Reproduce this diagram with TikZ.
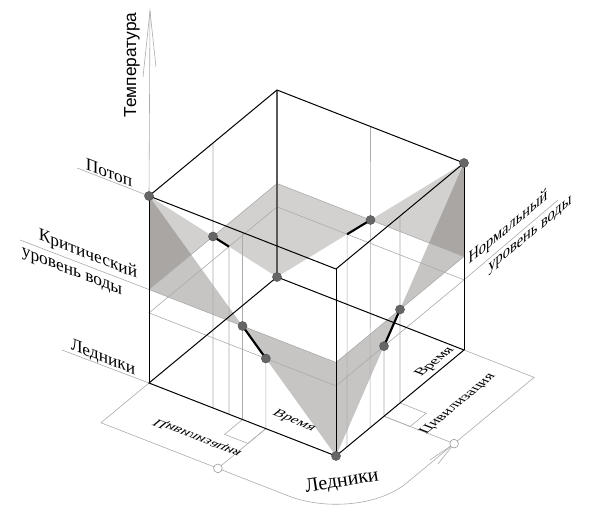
\documentclass[tikz,border=0pt]{standalone}
\usepackage{fontspec}
\setmainfont{Liberation Serif}
\newfontfamily\sansfont{Liberation Sans}
\begin{document}
\begin{tikzpicture}[x=0.75pt,y=-0.75pt,
  cubeedge/.style={line width=0.75pt,black},
  backedge/.style={line width=0.9pt,black!65},
  guide/.style={line width=0.45pt,black!33},
  shadeback/.style={fill={rgb,255:red,90;green,84;blue,80},fill opacity=0.27,draw=none},
  shadefront/.style={fill={rgb,255:red,90;green,84;blue,80},fill opacity=0.34,draw=none},
  dot/.style={circle,fill=black!60,draw=black!70,line width=0.3pt,inner sep=0pt,minimum size=6.8pt},
  ring/.style={circle,draw=black!40,line width=0.45pt,inner sep=0pt,minimum size=6.5pt},
  civ/.style={line width=1.6pt,black},
  lbl/.style={font=\fontsize{14}{16}\selectfont,inner sep=0pt,transform shape},
  flbl/.style={font=\fontsize{12}{14}\selectfont,inner sep=0pt,transform shape},
]
\useasboundingbox (0,0) rectangle (590,513);
\begin{scope}[shift={(277,277)},x={(-96pt,-79.5pt)},y={(140.25pt,-54.75pt)},z={(0pt,140.25pt)}]
 \coordinate (O) at (0,0,0);
 \coordinate (L) at (1,0,0);
 \coordinate (R) at (0,1,0);
 \coordinate (F) at (1,1,0);
 \coordinate (Ot) at (0,0,1);
 \coordinate (Lt) at (1,0,1);
 \coordinate (Rt) at (0,1,1);
 \coordinate (Ft) at (1,1,1);
 \coordinate (kL) at (1,0,0.5);
 \coordinate (kO) at (0,0,0.5);
 \coordinate (kR) at (0,1,0.5);
 \coordinate (kF) at (1,1,0.5);
 \coordinate (mL) at (1,0,0.375);
 \coordinate (mO) at (0,0,0.375);
 \coordinate (mR) at (0,1,0.375);
 \coordinate (mF) at (1,1,0.375);
 \coordinate (cBL) at (0.5,0,0.5);
 \coordinate (cBR) at (0,0.5,0.5);
 \coordinate (cL) at (1,0.5,0.5);
 \coordinate (cR) at (0.5,1,0.5);
 \coordinate (nBL) at (0.375,0,0.375);
 \coordinate (nBR) at (0,0.375,0.375);
 \coordinate (nL) at (1,0.625,0.375);
 \coordinate (nR) at (0.625,1,0.375);
 % vertical guide ends
 \coordinate (v1t) at (0.5,0,1);   \coordinate (v1b) at (1,0.342,0);
 \coordinate (v2b) at (1,0.428,0);
 \coordinate (v3t) at (0,0.5,1);   \coordinate (v3b) at (0.734,1,0);
 \coordinate (v4b) at (0.914,1,0);
 \coordinate (v5t) at (1,0.5,1);   \coordinate (v5b) at (1,0.5,0);
 \coordinate (eL) at (1,0.625,0);
 \coordinate (v7t) at (0.5,1,1);   \coordinate (v7b) at (0.5,1,0);
 \coordinate (eR) at (0.625,1,0);
 % brackets on the floor
 \coordinate (bL1) at (1.14,0.5,0);  \coordinate (bL2) at (1.14,0.625,0);
 \coordinate (bR1) at (0.5,1.14,0);  \coordinate (bR2) at (0.625,1.14,0);
 % floor band
 \coordinate (fL) at (1.375,0,0);
 \coordinate (fLc) at (1.375,0.625,0);
 \coordinate (fLe) at (1.375,1,0);
 \coordinate (fRe) at (1,1.375,0);
 \coordinate (fRc) at (0.625,1.375,0);
 \coordinate (fR) at (0,1.375,0);
 % shaded triangles
 \fill[shadeback] (Lt) -- (kL) -- (cBL) -- cycle;
 \fill[shadeback] (cBL) -- (kO) -- (O) -- cycle;
 \fill[shadeback] (Rt) -- (kR) -- (cBR) -- cycle;
 \fill[shadeback] (cBR) -- (kO) -- (O) -- cycle;
 \fill[shadefront] (Lt) -- (kL) -- (cL) -- cycle;
 \fill[shadefront] (cL) -- (kF) -- (F) -- cycle;
 \fill[shadefront] (Rt) -- (kR) -- (cR) -- cycle;
 \fill[shadefront] (cR) -- (kF) -- (F) -- cycle;
 % guides
 \draw[guide] (kL) -- (kO) -- (kR) -- (kF) -- cycle;
 \draw[guide] (mL) -- (mO) -- (mR) -- (mF) -- cycle;
 \draw[guide] (v1t) -- (v1b) (nBL) -- (v2b) (v3t) -- (v3b) (nBR) -- (v4b)
              (v5t) -- (v5b) (nL) -- (eL) (v7t) -- (v7b) (nR) -- (eR);
 \draw[guide] (v5b) -- (bL1) -- (bL2) -- (eL);
 \draw[guide] (v7b) -- (bR1) -- (bR2) -- (eR);
 \draw[guide] (L) -- (fL) -- (fLc) -- (fLe)
   plot[domain=0:90,samples=40] ({1+0.375*cos(\x)},{1+0.375*sin(\x)},0);
 \draw[guide] (fRe) -- (fRc);
 \draw[guide] (R) -- (fR) -- (fRc) -- (eR);
 \draw[guide] (fLc) -- (eL);
\end{scope}
% label lines
\coordinate (potopEnd) at (77,168);
\coordinate (kritEnd) at (20,240);
\coordinate (lednEnd) at (62,350);
\coordinate (normEnd) at (558,200);
\coordinate (tempTip) at (150,11);
\coordinate (tempB1) at (143,77);
\coordinate (tempB2) at (156,67);
\draw[guide] (potopEnd) -- (Lt);
\draw[guide] (kritEnd) -- (kL);
\draw[guide] (lednEnd) -- (L);
\draw[guide] (normEnd) -- (mR);
\draw[guide] (Lt) -- (tempTip);
\draw[guide] (tempB1) -- (tempTip) -- (tempB2);
\coordinate (arB1) at (430,460);
\coordinate (arB2) at (438,464);
\draw[guide] (arB1) -- (fRc) -- (arB2);
% cube edges
\draw[backedge] (Ot) -- (O);
\draw[cubeedge] (Ot) -- (Lt) -- (Ft) -- (Rt) -- cycle;
\draw[cubeedge] (Lt) -- (L) (Rt) -- (R) (Ft) -- (F);
\draw[cubeedge] (L) -- (F) -- (R) -- (O) -- cycle;
% civilization segments
\draw[civ] (cBL) -- (nBL);
\draw[civ] (cBR) -- (nBR);
\draw[civ] (cL) -- (nL);
\draw[civ] (cR) -- (nR);
% dots
\foreach \p in {Lt,Rt,F,O,cBL,cBR,cL,cR,nL,nR}{\node[dot] (d\p) at (\p) {};}
\node[ring,fill=white] (rL) at (fLc) {};
\node[ring,fill=white] (rR) at (fRc) {};
% labels
\node[font=\sansfont\fontsize{13}{15}\selectfont,rotate=90,inner sep=0pt] (temp) at (132,65) {Температура};
\begin{scope}[shift={(109,172.5)},cm={0.932,-0.364,0,0.95,(0,0)}]
 \node[lbl] (tPotop) {Потоп};
\end{scope}
\begin{scope}[shift={(88,255)},cm={0.932,-0.364,0,0.95,(0,0)}]
 \node[lbl] (tKrit1) {Критический};
\end{scope}
\begin{scope}[shift={(72,273)},cm={0.932,-0.364,0,0.95,(0,0)}]
 \node[lbl] (tKrit2) {уровень воды};
\end{scope}
\begin{scope}[shift={(103,358)},cm={0.932,-0.364,0,0.95,(0,0)}]
 \node[lbl] (tLedn1) {Ледники};
\end{scope}
\begin{scope}[shift={(508,228)},cm={0.770,0.638,0,0.95,(0,0)}]
 \node[lbl] (tNorm1) {Нормальный};
\end{scope}
\begin{scope}[shift={(530,236)},cm={0.770,0.638,0,0.95,(0,0)}]
 \node[lbl] (tNorm2) {уровень воды};
\end{scope}
\begin{scope}[shift={(294,421)},cm={0.932,-0.364,0.638,0.528,(0,0)}]
 \node[flbl] (tVremL) {Время};
\end{scope}
\begin{scope}[shift={(198,438)},cm={0.932,-0.364,-0.638,-0.528,(0,0)}]
 \node[flbl] (tCivL) {Цивилизация};
\end{scope}
\begin{scope}[shift={(435,362)},cm={0.770,0.638,-0.838,0.327,(0,0)}]
 \node[flbl] (tVremR) {Время};
\end{scope}
\begin{scope}[shift={(458,404)},cm={0.770,0.638,-0.838,0.327,(0,0)}]
 \node[flbl] (tCivR) {Цивилизация};
\end{scope}
\node[font=\fontsize{15}{17}\selectfont,rotate=9,inner sep=0pt] (tLedn2) at (342,482) {Ледники};
\end{tikzpicture}
\end{document}
